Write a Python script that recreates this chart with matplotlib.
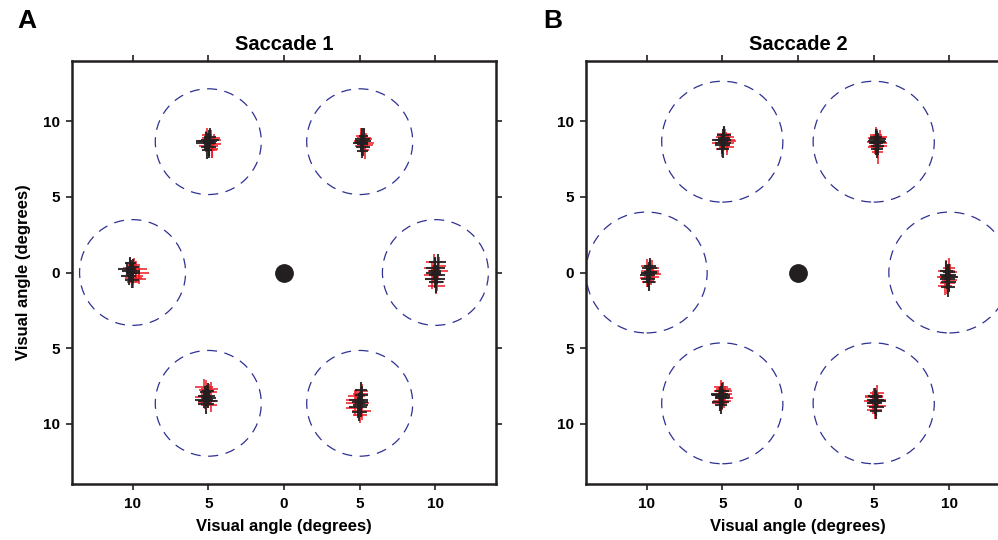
import matplotlib
matplotlib.use("Agg")
from matplotlib import pyplot as plt
from matplotlib.patches import Circle

plt.rcParams['font.family'] = ['Liberation Sans', 'DejaVu Sans']
plt.rcParams['font.weight'] = 'bold'

# target layout (degrees)
targets_x = [-5.0, 5.0, -10.0, 10.0, -5.0, 5.0]
targets_y = [8.66, 8.66, 0.0, 0.0, -8.66, -8.66]

tick_vals = [-10, -5, 0, 5, 10]
tick_labels = ['10', '5', '0', '5', '10']

# tolerance window radius per saccade
window_radius = [3.5, 4.0]

# mean landing point per target
sac1_cx = [-5.03, 5.17, -10.1, 10.0, -5.1, 4.97]
sac1_cy = [8.59, 8.6, 0.0, -0.05, -8.26, -8.66]
sac2_cx = [-4.95, 5.2, -9.85, 9.9, -5.07, 5.13]
sac2_cy = [8.69, 8.6, -0.05, -0.27, -8.24, -8.57]

# per-session endpoints: (dx, dy, xerr, yerr) relative to mean
sac1_red = [
    [(0.2, 0.3, 0.6, 0.55), (0.35, -0.1, 0.55, 0.45), (-0.15, 0.1, 0.5, 0.7), (0.25, -0.4, 0.4, 0.6),
     (-0.05, 0.5, 0.35, 0.5), (0.4, 0.2, 0.5, 0.35), (0.05, -0.2, 0.65, 0.6), (0.25, -0.5, 0.35, 0.5)],
    [(0.1, 0.3, 0.45, 0.6), (0.2, -0.15, 0.5, 0.45), (-0.1, 0.1, 0.45, 0.6), (0.15, -0.5, 0.3, 0.6),
     (0.25, 0.25, 0.4, 0.4), (-0.05, -0.25, 0.45, 0.45), (0.2, 0.0, 0.55, 0.35), (-0.1, 0.45, 0.3, 0.5)],
    [(0.35, 0.2, 0.7, 0.55), (0.15, -0.35, 0.55, 0.5), (0.55, 0.0, 0.65, 0.45), (-0.1, 0.3, 0.45, 0.65),
     (0.3, -0.2, 0.5, 0.4), (0.2, 0.5, 0.4, 0.45), (0.55, -0.4, 0.45, 0.35), (0.1, -0.6, 0.4, 0.45)],
    [(-0.1, 0.75, 0.55, 0.55), (0.15, 0.15, 0.65, 0.5), (-0.2, -0.35, 0.5, 0.7), (0.05, -0.85, 0.55, 0.5),
     (0.25, 0.45, 0.45, 0.6), (-0.15, -0.1, 0.6, 0.5), (0.1, -0.55, 0.45, 0.65), (-0.25, 0.35, 0.5, 0.45)],
    [(-0.2, 0.65, 0.6, 0.55), (0.15, 0.35, 0.55, 0.5), (-0.3, 0.0, 0.5, 0.6), (0.1, -0.25, 0.65, 0.45),
     (-0.05, 0.5, 0.45, 0.65), (0.25, -0.5, 0.4, 0.5), (-0.15, -0.35, 0.45, 0.4), (0.3, 0.55, 0.45, 0.45)],
    [(-0.25, 0.25, 0.65, 0.6), (0.1, 0.6, 0.5, 0.5), (-0.3, -0.3, 0.55, 0.55), (0.15, -0.5, 0.6, 0.6),
     (-0.1, 0.05, 0.75, 0.7), (0.2, 0.8, 0.4, 0.45), (0.05, -0.75, 0.45, 0.55), (-0.2, 0.5, 0.55, 0.45)],
]
sac1_black = [
    [(-0.1, 0.1, 0.7, 0.6), (0.05, -0.3, 0.5, 0.7), (0.15, 0.4, 0.4, 0.55), (-0.2, -0.05, 0.6, 0.45),
     (0.1, 0.0, 0.45, 0.85), (-0.05, -0.45, 0.35, 0.6), (0.15, 0.15, 0.6, 0.4), (0.0, 0.05, 0.35, 0.6)],
    [(0.0, 0.25, 0.5, 0.7), (0.05, -0.3, 0.45, 0.6), (-0.05, 0.0, 0.4, 0.5), (0.1, 0.45, 0.3, 0.5),
     (-0.1, -0.05, 0.5, 0.55), (0.0, -0.55, 0.35, 0.5), (0.05, 0.1, 0.55, 0.35), (0.0, -0.1, 0.35, 0.7)],
    [(0.0, 0.1, 0.6, 0.7), (-0.15, -0.25, 0.5, 0.6), (0.1, 0.35, 0.4, 0.55), (0.05, -0.5, 0.45, 0.5),
     (-0.25, 0.25, 0.6, 0.45), (0.15, -0.05, 0.45, 0.65), (-0.05, 0.6, 0.35, 0.4), (0.0, 0.0, 0.35, 0.6)],
    [(0.0, 0.35, 0.6, 0.75), (0.1, -0.1, 0.55, 0.6), (-0.1, 0.05, 0.5, 0.5), (0.05, -0.6, 0.45, 0.7),
     (0.15, 0.75, 0.55, 0.55), (-0.05, -0.35, 0.65, 0.6), (0.0, 0.15, 0.4, 0.85), (0.05, -0.05, 0.35, 0.6)],
    [(0.0, 0.1, 0.55, 0.7), (-0.2, -0.2, 0.6, 0.5), (0.1, 0.4, 0.4, 0.55), (-0.05, -0.45, 0.5, 0.65),
     (0.15, -0.05, 0.45, 0.45), (-0.1, 0.35, 0.35, 0.4), (0.05, -0.25, 0.65, 0.45), (0.0, 0.0, 0.35, 0.6)],
    [(0.05, 0.1, 0.55, 0.65), (0.15, 0.55, 0.45, 0.6), (-0.1, -0.25, 0.6, 0.7), (0.0, -0.6, 0.5, 0.55),
     (0.1, 0.9, 0.4, 0.5), (-0.05, 0.25, 0.65, 0.45), (0.1, -0.1, 0.5, 0.8), (0.05, 0.0, 0.35, 0.6)],
]
sac2_red = [
    [(0.15, 0.25, 0.6, 0.55), (-0.15, -0.1, 0.55, 0.5), (0.25, -0.35, 0.5, 0.55), (0.05, 0.45, 0.45, 0.45),
     (0.3, 0.0, 0.55, 0.4), (-0.05, -0.5, 0.4, 0.55), (0.2, 0.1, 0.6, 0.5), (0.25, -0.15, 0.45, 0.55)],
    [(0.0, 0.3, 0.55, 0.6), (0.1, -0.2, 0.6, 0.5), (-0.15, 0.05, 0.5, 0.55), (0.05, -0.6, 0.35, 0.85),
     (0.2, 0.35, 0.45, 0.5), (-0.1, -0.3, 0.5, 0.45), (0.15, 0.0, 0.55, 0.4), (-0.05, 0.5, 0.4, 0.5)],
    [(0.1, 0.15, 0.6, 0.65), (-0.1, -0.3, 0.5, 0.6), (0.2, 0.35, 0.45, 0.55), (0.0, -0.55, 0.45, 0.55),
     (0.25, -0.05, 0.55, 0.45), (-0.15, 0.45, 0.4, 0.5), (0.15, -0.25, 0.5, 0.5), (0.05, 0.0, 0.6, 0.4)],
    [(-0.1, 0.35, 0.55, 0.75), (0.1, -0.25, 0.5, 0.7), (-0.2, -0.6, 0.45, 0.65), (0.0, 0.0, 0.6, 0.55),
     (0.15, 0.3, 0.45, 0.5), (-0.05, -0.4, 0.5, 0.75), (0.05, 0.6, 0.4, 0.6), (-0.15, -0.05, 0.55, 0.6)],
    [(0.1, 0.4, 0.6, 0.6), (-0.15, 0.1, 0.55, 0.55), (0.2, -0.1, 0.55, 0.65), (0.0, 0.65, 0.45, 0.5),
     (-0.1, -0.4, 0.5, 0.55), (0.15, 0.55, 0.5, 0.45), (0.05, -0.25, 0.6, 0.6), (0.25, 0.2, 0.45, 0.55)],
    [(-0.1, 0.35, 0.6, 0.6), (0.05, -0.25, 0.6, 0.55), (-0.2, 0.05, 0.55, 0.65), (0.1, 0.6, 0.45, 0.5),
     (-0.05, -0.5, 0.5, 0.6), (0.15, 0.15, 0.55, 0.45), (-0.15, -0.1, 0.45, 0.7), (-0.1, 0.4, 0.6, 0.5)],
]
sac2_black = [
    [(0.0, 0.1, 0.55, 0.7), (-0.05, -0.25, 0.5, 0.6), (0.05, 0.4, 0.45, 0.55), (0.0, -0.5, 0.4, 0.6),
     (-0.1, 0.05, 0.6, 0.45), (0.05, 0.2, 0.4, 0.8), (0.0, -0.1, 0.55, 0.5), (0.0, 0.0, 0.35, 0.6)],
    [(0.0, 0.1, 0.55, 0.65), (0.05, -0.25, 0.45, 0.6), (-0.05, 0.35, 0.4, 0.55), (0.0, -0.45, 0.4, 0.55),
     (0.1, 0.05, 0.5, 0.45), (-0.05, -0.05, 0.45, 0.75), (0.05, 0.25, 0.55, 0.4), (0.0, 0.0, 0.35, 0.6)],
    [(0.0, 0.05, 0.55, 0.7), (-0.05, -0.35, 0.45, 0.55), (0.05, 0.35, 0.5, 0.55), (0.0, -0.6, 0.4, 0.55),
     (0.1, 0.1, 0.45, 0.5), (-0.1, -0.1, 0.5, 0.45), (0.05, 0.5, 0.4, 0.5), (0.0, 0.0, 0.35, 0.6)],
    [(0.0, 0.1, 0.55, 0.75), (0.05, -0.35, 0.5, 0.65), (-0.1, 0.4, 0.45, 0.6), (0.0, -0.7, 0.45, 0.65),
     (0.1, 0.0, 0.55, 0.5), (-0.05, -0.15, 0.5, 0.7), (0.05, 0.3, 0.4, 0.55), (0.0, 0.05, 0.35, 0.7)],
    [(0.0, 0.1, 0.6, 0.65), (-0.05, -0.3, 0.55, 0.6), (0.05, 0.4, 0.45, 0.55), (0.0, -0.55, 0.4, 0.55),
     (0.1, 0.0, 0.5, 0.5), (-0.1, 0.2, 0.55, 0.45), (0.05, -0.1, 0.45, 0.7), (0.0, 0.05, 0.35, 0.6)],
    [(0.0, 0.1, 0.55, 0.65), (0.05, -0.35, 0.5, 0.6), (-0.05, 0.4, 0.45, 0.55), (0.0, -0.6, 0.4, 0.55),
     (0.1, 0.05, 0.55, 0.45), (-0.05, -0.1, 0.5, 0.7), (0.05, 0.3, 0.4, 0.5), (0.0, 0.0, 0.35, 0.6)],
]

RED = '#ec1c24'
BLACK = '#231f20'
NAVY = '#2e3192'


def draw_cluster(ax, cx, cy, pts, color, alpha, lw):
    xs = [cx + p[0] for p in pts]
    ys = [cy + p[1] for p in pts]
    xe = [p[2] for p in pts]
    ye = [p[3] for p in pts]
    ax.errorbar(xs, ys, xerr=xe, yerr=ye, fmt='none', ecolor=color,
                elinewidth=lw, capsize=0, alpha=alpha, zorder=3)


def draw_panel(ax, title, radius, cxs, cys, red, black, ylabel):
    for tx, ty in zip(targets_x, targets_y):
        ax.add_patch(Circle((tx, ty), radius, fill=False, ec=NAVY, lw=0.9,
                            ls=(0, (8, 6)), zorder=1))
    for i in range(len(targets_x)):
        draw_cluster(ax, cxs[i], cys[i], red[i], RED, 0.8, 1.4)
    for i in range(len(targets_x)):
        draw_cluster(ax, cxs[i], cys[i], black[i], BLACK, 0.9, 1.5)
    ax.plot([0], [0], 'o', color=BLACK, ms=12.5, zorder=4)

    ax.set_xlim(-14, 14)
    ax.set_ylim(-14, 14)
    ax.set_xticks(tick_vals)
    ax.set_xticklabels(tick_labels)
    ax.set_yticks(tick_vals)
    ax.set_yticklabels(tick_labels)
    ax.tick_params(direction='out', length=4, width=1.2, color=BLACK,
                   labelsize=11, top=True, right=True, pad=5)
    for s in ax.spines.values():
        s.set_linewidth(1.8)
        s.set_color(BLACK)
    ax.set_title(title, fontsize=14.5, fontweight='bold', pad=8)
    ax.set_xlabel('Visual angle (degrees)', fontsize=12, fontweight='bold', labelpad=6)
    if ylabel:
        ax.set_ylabel('Visual angle (degrees)', fontsize=12, fontweight='bold', labelpad=8)


fig = plt.figure(figsize=(9.98, 5.4), dpi=100)
axA = fig.add_axes([72 / 998, 56 / 540, 424 / 998, 423 / 540])
axB = fig.add_axes([586 / 998, 56 / 540, 424 / 998, 423 / 540])

draw_panel(axA, 'Saccade 1', window_radius[0], sac1_cx, sac1_cy, sac1_red, sac1_black, True)
draw_panel(axB, 'Saccade 2', window_radius[1], sac2_cx, sac2_cy, sac2_red, sac2_black, False)

fig.text(27 / 998, 1 - 21 / 540, 'A', fontsize=19, fontweight='bold', va='center', ha='center')
fig.text(553 / 998, 1 - 21 / 540, 'B', fontsize=19, fontweight='bold', va='center', ha='center')

fig.savefig('out.png', dpi=100)
